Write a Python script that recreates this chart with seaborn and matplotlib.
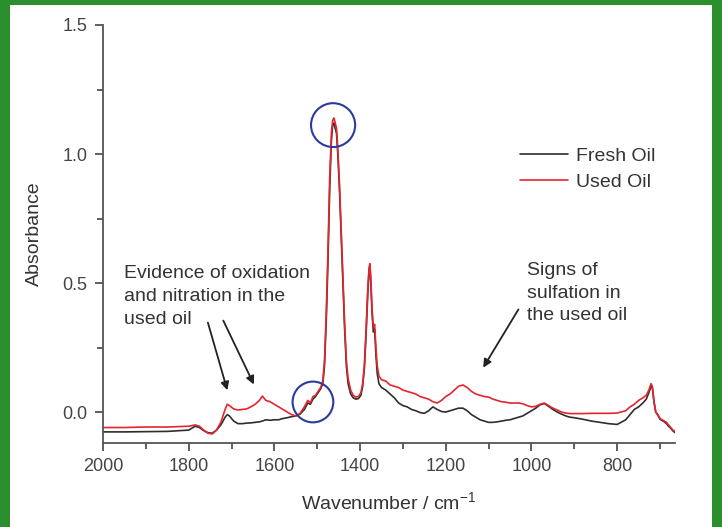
import numpy as np
import pandas as pd
import matplotlib
matplotlib.use("Agg")
import matplotlib.pyplot as plt
from matplotlib.patches import Ellipse, Rectangle
from matplotlib.ticker import MultipleLocator
import seaborn as sns

sns.set_style("ticks")
plt.rcParams['font.family'] = ['Liberation Sans', 'DejaVu Sans']

# spectra (wavenumber in cm-1, absorbance)
wavenumber = [2000, 1950, 1900, 1850, 1800, 1785, 1775, 1765, 1755, 1745,
              1735, 1725, 1715, 1710, 1705, 1695, 1685, 1675, 1665, 1655,
              1645, 1635, 1628, 1620, 1610, 1600, 1590, 1580, 1570, 1560,
              1550, 1540, 1530, 1522, 1516, 1510, 1504, 1498, 1492, 1487,
              1483, 1479, 1475, 1471, 1467, 1464, 1461, 1458, 1455, 1452,
              1448, 1444, 1440, 1436, 1432, 1428, 1422, 1416, 1410, 1404,
              1398, 1394, 1390, 1386, 1382, 1379, 1377, 1375, 1372, 1369,
              1366, 1363, 1360, 1356, 1350, 1340, 1330, 1320, 1310, 1300,
              1290, 1280, 1270, 1260, 1250, 1240, 1230, 1220, 1210, 1200,
              1190, 1180, 1170, 1160, 1150, 1140, 1130, 1120, 1110, 1100,
              1090, 1080, 1070, 1060, 1050, 1040, 1030, 1020, 1010, 1000,
              990, 980, 970, 960, 950, 940, 930, 920, 910, 900,
              880, 860, 840, 820, 800, 780, 770, 760, 750, 740,
              732, 726, 721, 718, 714, 710, 705, 700, 695, 690,
              685, 680, 675, 670, 665]

fresh_oil = [-0.077, -0.077, -0.076, -0.075, -0.070, -0.055, -0.060, -0.072, -0.080, -0.082,
             -0.070, -0.050, -0.020, -0.010, -0.015, -0.035, -0.045, -0.045, -0.043, -0.042,
             -0.040, -0.038, -0.035, -0.030, -0.032, -0.030, -0.030, -0.025, -0.022, -0.018,
             -0.015, -0.008, 0.010, 0.035, 0.030, 0.050, 0.060, 0.075, 0.090, 0.110,
             0.180, 0.350, 0.580, 0.860, 1.050, 1.110, 1.120, 1.100, 1.080, 1.000,
             0.860, 0.680, 0.500, 0.320, 0.180, 0.110, 0.070, 0.055, 0.050, 0.052,
             0.065, 0.100, 0.170, 0.300, 0.460, 0.550, 0.565, 0.500, 0.380, 0.310,
             0.320, 0.220, 0.150, 0.110, 0.095, 0.085, 0.070, 0.055, 0.035, 0.025,
             0.020, 0.010, 0.005, -0.002, -0.005, 0.005, 0.020, 0.010, 0.002, 0.000,
             0.005, 0.010, 0.015, 0.015, 0.005, -0.010, -0.020, -0.030, -0.035, -0.040,
             -0.040, -0.038, -0.035, -0.032, -0.030, -0.025, -0.020, -0.015, -0.005, 0.005,
             0.015, 0.028, 0.033, 0.022, 0.010, 0.000, -0.008, -0.015, -0.020, -0.022,
             -0.028, -0.035, -0.040, -0.045, -0.048, -0.030, -0.010, 0.010, 0.020, 0.035,
             0.050, 0.075, 0.100, 0.095, 0.040, 0.000, -0.012, -0.028, -0.033, -0.038,
             -0.045, -0.055, -0.063, -0.073, -0.080]

used_oil = [-0.060, -0.060, -0.058, -0.058, -0.055, -0.050, -0.055, -0.070, -0.082, -0.085,
            -0.070, -0.040, 0.010, 0.030, 0.025, 0.012, 0.008, 0.010, 0.012, 0.020,
            0.030, 0.045, 0.062, 0.045, 0.040, 0.030, 0.020, 0.010, 0.000, -0.010,
            -0.015, -0.005, 0.020, 0.045, 0.035, 0.060, 0.065, 0.080, 0.095, 0.120,
            0.200, 0.380, 0.620, 0.900, 1.080, 1.130, 1.140, 1.120, 1.100, 1.020,
            0.880, 0.700, 0.520, 0.340, 0.200, 0.130, 0.085, 0.065, 0.058, 0.060,
            0.075, 0.110, 0.180, 0.320, 0.480, 0.560, 0.575, 0.520, 0.400, 0.330,
            0.340, 0.250, 0.180, 0.140, 0.125, 0.120, 0.105, 0.100, 0.095, 0.085,
            0.080, 0.075, 0.070, 0.060, 0.055, 0.050, 0.040, 0.035, 0.045, 0.060,
            0.070, 0.085, 0.100, 0.105, 0.095, 0.080, 0.070, 0.065, 0.060, 0.058,
            0.050, 0.045, 0.040, 0.038, 0.035, 0.035, 0.035, 0.032, 0.025, 0.020,
            0.022, 0.030, 0.035, 0.025, 0.015, 0.008, 0.000, -0.004, -0.006, -0.006,
            -0.006, -0.005, -0.005, -0.005, -0.004, 0.005, 0.020, 0.030, 0.045, 0.055,
            0.065, 0.085, 0.110, 0.100, 0.040, 0.000, -0.010, -0.025, -0.030, -0.035,
            -0.040, -0.050, -0.060, -0.070, -0.075]

series_names = ["Fresh Oil", "Used Oil"]
series_colors = {"Fresh Oil": "#2e2e2e", "Used Oil": "#e3262e"}

n = len(wavenumber)
df = pd.DataFrame({
    "Wavenumber": wavenumber + wavenumber,
    "Absorbance": fresh_oil + used_oil,
    "Sample": [series_names[0]] * n + [series_names[1]] * n,
})

fig = plt.figure(figsize=(7.22, 5.27), dpi=100, facecolor="#2a8f2c")
# white page inside the green frame
fig.patches.append(Rectangle((10 / 722, 0), 702 / 722, 1 - 5 / 527,
                             transform=fig.transFigure, facecolor="white",
                             edgecolor="none", zorder=-10))
ax = fig.add_axes([103 / 722, 1 - 443 / 527, 572 / 722, 418 / 527])
ax.set_facecolor("white")

sns.lineplot(data=df, x="Wavenumber", y="Absorbance", hue="Sample",
             palette=series_colors, estimator=None, linewidth=1.2, ax=ax)

ax.set_xlim(2000, 665)
ax.set_ylim(-0.12, 1.5)
ax.xaxis.set_major_locator(MultipleLocator(200))
ax.xaxis.set_minor_locator(MultipleLocator(100))
ax.yaxis.set_major_locator(MultipleLocator(0.5))
ax.yaxis.set_minor_locator(MultipleLocator(0.25))
ax.tick_params(which="major", direction="out", length=6, width=1.2,
               colors="#444444", labelsize=13, pad=5)
ax.tick_params(which="minor", direction="out", length=4, width=1.2, colors="#444444")
for side in ["top", "right"]:
    ax.spines[side].set_visible(False)
for side in ["left", "bottom"]:
    ax.spines[side].set_color("#555555")
    ax.spines[side].set_linewidth(1.3)

ax.set_xlabel(r"Wavenumber / cm$^{\mathregular{-1}}$", fontsize=14, color="#333333", labelpad=12)
ax.set_ylabel("Absorbance", fontsize=14, color="#333333", labelpad=14)

leg = ax.legend(loc="upper left", bbox_to_anchor=(0.715, 0.726), frameon=False,
                fontsize=14, handlelength=2.5, handletextpad=0.4, labelspacing=0.45,
                borderaxespad=0)
for t in leg.get_texts():
    t.set_color("#333333")

# annotations
ax.text(1951, 0.446, "Evidence of oxidation\nand nitration in the\nused oil",
        fontsize=14, color="#333333", va="center", ha="left", linespacing=1.46)
ax.text(1010, 0.46, "Signs of\nsulfation in\nthe used oil",
        fontsize=14, color="#333333", va="center", ha="left", linespacing=1.42)

arrow = dict(arrowstyle="-|>", color="#222222", lw=1.3, mutation_scale=12)
ax.annotate("", xy=(1708, 0.074), xytext=(1757, 0.357), arrowprops=arrow)
ax.annotate("", xy=(1645, 0.097), xytext=(1722, 0.364), arrowprops=arrow)
ax.annotate("", xy=(1116, 0.163), xytext=(1027, 0.407), arrowprops=arrow)

ax.add_patch(Ellipse((1463, 1.112), 103, 0.17, fill=False, edgecolor="#2b3a9c", lw=1.5, zorder=5))
ax.add_patch(Ellipse((1510, 0.039), 95, 0.158, fill=False, edgecolor="#2b3a9c", lw=1.5, zorder=5))

fig.savefig("out.png", dpi=100, facecolor=fig.get_facecolor())
